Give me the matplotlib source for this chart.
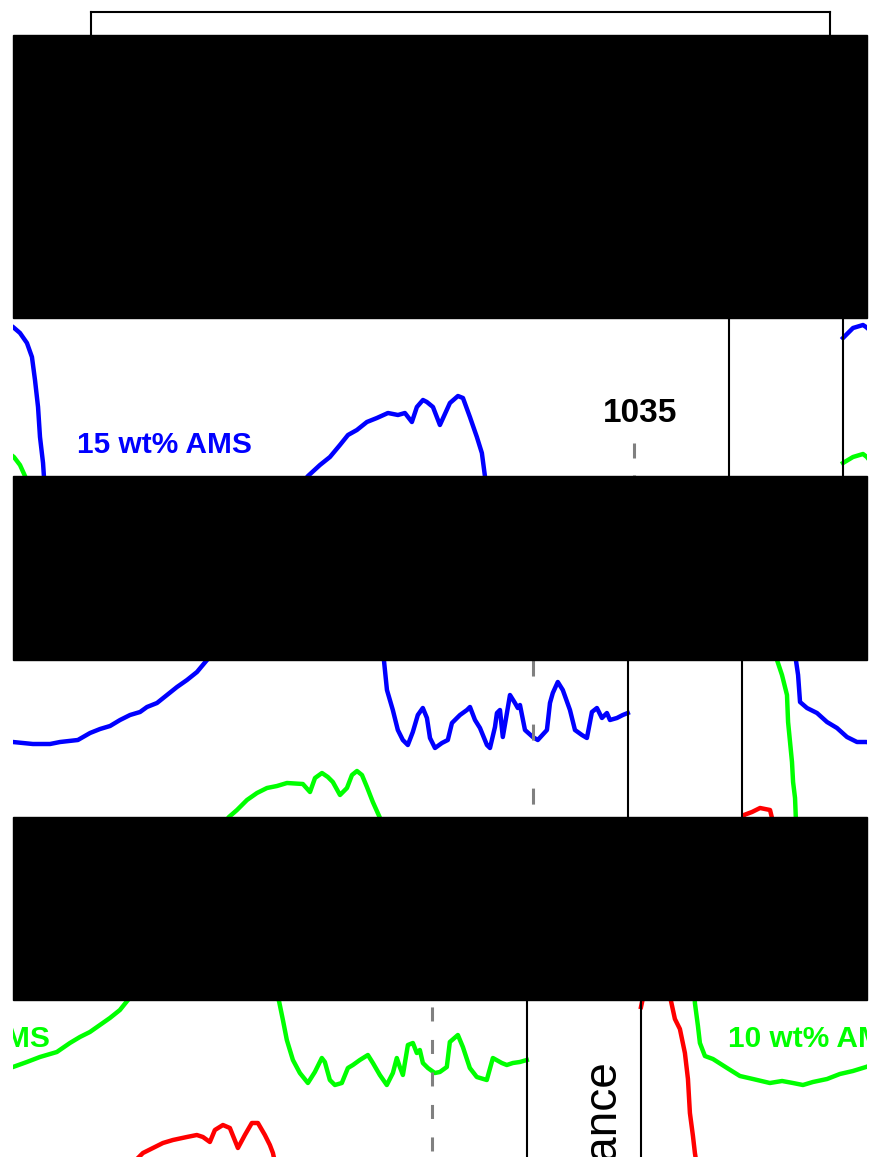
import matplotlib
matplotlib.use('Agg')
import matplotlib.pyplot as plt
from matplotlib.patches import Rectangle
from matplotlib.transforms import Bbox, TransformedBbox

plt.rcParams['font.family'] = ['Liberation Sans', 'DejaVu Sans']
plt.rcParams['lines.scale_dashes'] = False

# spectra: wavenumber (cm-1) and absorbance, stacked with offsets
blue_wn = [4000, 3954, 3908, 3894, 3862, 3830, 3807, 3793, 3779, 3770,
           3756, 3752, 3742, 3733, 3701, 3655, 3609, 3563, 3517, 3471,
           3430, 3338, 3259, 3213, 3131, 3075, 3029, 2983, 2937, 2891,
           2845, 2813, 2767, 2721, 2675, 2629, 2583, 2537, 2482, 2436,
           2390, 2353, 2312, 2266, 2220, 2169, 2123, 2091, 2059, 2036,
           2008, 1990, 1962, 1930, 1884, 1847, 1824, 1792, 1760, 1737,
           1723, 1709, 1682, 1659, 1636, 1613, 1590, 1567, 1544, 1525,
           1511, 1488, 1456, 1429, 1410, 1387, 1373, 1341, 1327, 1304,
           1281, 1249, 1235, 1212, 1203, 1189, 1176, 1157, 1143, 1120,
           1107, 1097, 1074, 1038, 1015, 973, 959, 946, 923, 900,
           867, 844, 812, 789, 766, 743, 720, 697, 683, 651,
           624, 601]
blue_abs = [.462, .472, .475, .473, .467, .457, .443, .420, .393, .363,
            .337, .324, .309, .282, .276, .271, .262, .256, .247, .242,
            .242, .240, .240, .242, .244, .251, .255, .258, .264, .269,
            .272, .277, .281, .289, .297, .304, .312, .324, .335, .343,
            .355, .365, .370, .378, .382, .387, .385, .387, .378, .393,
            .400, .398, .393, .375, .397, .404, .402, .383, .363, .347,
            .324, .294, .274, .254, .244, .239, .252, .269, .276, .266,
            .246, .236, .241, .244, .261, .266, .269, .274, .277, .264,
            .256, .239, .236, .257, .271, .274, .247, .271, .289, .281,
            .276, .279, .254, .247, .244, .254, .281, .291, .302, .294,
            .274, .254, .249, .246, .272, .276, .266, .271, .264, .266,
            .269, .271]

green_wn = [4000, 3954, 3908, 3890, 3862, 3839, 3816, 3793, 3788, 3779,
            3770, 3765, 3756, 3752, 3738, 3729, 3706, 3669, 3604, 3545,
            3485, 3407, 3351, 3301, 3255, 3209, 3144, 3085, 3025, 2965,
            2901, 2841, 2763, 2703, 2657, 2611, 2565, 2519, 2473, 2436,
            2399, 2353, 2307, 2261, 2215, 2169, 2096, 2063, 2040, 2008,
            1981, 1958, 1925, 1893, 1870, 1847, 1824, 1801, 1774, 1741,
            1723, 1705, 1677, 1645, 1608, 1576, 1544, 1530, 1507, 1484,
            1452, 1424, 1401, 1369, 1332, 1309, 1277, 1245, 1217, 1199,
            1185, 1171, 1148, 1125, 1107, 1093, 1079, 1056, 1024, 1001,
            969, 955, 918, 895, 863, 831, 785, 757, 716, 693,
            665, 633, 601]
green_abs = [.337, .343, .346, .343, .335, .324, .309, .289, .262, .242,
             .222, .202, .186, .164, .141, .124, .111, .108, .099, .091,
             .088, .084, .086, .084, .082, .085, .088, .093, .096, .100,
             .105, .110, .115, .124, .130, .135, .142, .149, .157, .167,
             .174, .184, .191, .196, .198, .201, .200, .192, .206, .211,
             .207, .202, .189, .196, .209, .213, .209, .197, .182, .166,
             .147, .127, .107, .094, .084, .095, .109, .105, .087, .082,
             .084, .099, .102, .107, .112, .104, .092, .082, .094, .109,
             .100, .092, .122, .124, .114, .117, .104, .099, .094, .095,
             .100, .125, .132, .120, .099, .090, .087, .109, .104, .102,
             .104, .105, .107]

red_wn = [4000, 3991, 3954, 3917, 3871, 3862, 3844, 3821, 3798, 3784,
          3775, 3761, 3752, 3742, 2408, 2367, 2321, 2275, 2229, 2165,
          2119, 2091, 2059, 2036, 1999, 1967, 1930, 1898, 1866, 1838,
          1806, 1783, 1769, 1755]
red_abs = [.160, .169, .172, .176, .174, .166, .148, .138, .114, .088,
           .054, .031, .014, .000, .005, .014, .019, .024, .027, .030,
           .032, .030, .025, .037, .042, .039, .019, .032, .044, .044,
           .032, .022, .014, .000]

series_colors = ['#0000ff', '#00ff00', '#ff0000']
label_text = ['15 wt% AMS', '10 wt% AMS']
label_abs = [0.347, 0.120]
LABEL_WN = 3600

PEAK_WN = 1035
PEAK_TOP = 0.357
PEAK_LABEL_ABS = 0.378

YLABEL_WN = 4110
YLABEL_ABS = 0.106

# layout in pixels
W, H = 871, 1157
XLIM = (4000, 600)
PANEL_TOP = 0.505
PANEL_W = 739
PANEL_LEFT = [-111, 742]
CLIP_X = (13, 867)
# (top px, bottom px, absorbance at top, absorbance at bottom, x shift px)
STRIPS = [
    (0, 35, 0.517, 0.482, 202),
    (318, 476, 0.482, 0.324, 101),
    (660, 817, 0.324, 0.167, 0),
    (1000, 1157, 0.167, 0.010, -101),
]
DASHES = [
    (0, (10.8, 12.2)),
    (0, (10.8, 12.2)),
    (22.3, (11.5, 34.6)),
    (22.0, (10.1, 13.3)),
]


def fx(px):
    return px / W


def fy(px):
    return 1 - px / H


def draw_panel(ax, dash, clip):
    lines = []
    for wn, ab, c in zip([blue_wn, green_wn, red_wn],
                         [blue_abs, green_abs, red_abs], series_colors):
        lines += ax.plot(wn, ab, color=c, lw=3.2, solid_joinstyle='round')
    lines += ax.plot([PEAK_WN, PEAK_WN], [PEAK_TOP, 0.0], color='#808080',
                     lw=2.2, linestyle=dash, zorder=3)
    texts = [ax.annotate(str(PEAK_WN), xy=(PEAK_WN, PEAK_LABEL_ABS),
                         xytext=(4, 0), textcoords='offset points',
                         ha='center', va='baseline', fontsize=24,
                         fontweight='bold', clip_on=True)]
    for t, y, c in zip(label_text, label_abs, series_colors):
        texts.append(ax.text(LABEL_WN, y, t, color=c, fontsize=21.5,
                             fontweight='bold', ha='left', va='baseline',
                             clip_on=True))
    texts.append(ax.text(YLABEL_WN, YLABEL_ABS, 'Absorbance', rotation=90,
                         rotation_mode='anchor', ha='right', va='baseline',
                         fontsize=33, clip_on=True))
    for a in lines + texts:
        a.set_clip_box(clip)
    return texts


fig = plt.figure(figsize=(W / 100, H / 100), dpi=100)
fig.patch.set_facecolor('white')

placed = []
for k, (top, bot, a_top, a_bot, shift) in enumerate(STRIPS):
    clip = TransformedBbox(Bbox.from_extents(fx(CLIP_X[0]), fy(bot),
                                             fx(CLIP_X[1]), fy(top)),
                           fig.transFigure)
    a_hi = min(a_top, PANEL_TOP)
    top_px = top + (a_top - a_hi) / (a_top - a_bot) * (bot - top)
    for left in PANEL_LEFT:
        ax = fig.add_axes([fx(left + shift), fy(bot), PANEL_W / W,
                           (bot - top_px) / H])
        ax.set_xlim(*XLIM)
        ax.set_ylim(a_bot, a_hi)
        ax.set_facecolor('none')
        ax.set_xticks([])
        ax.set_yticks([])
        ax.spines['bottom'].set_visible(False)
        ax.spines['top'].set_visible(a_top > PANEL_TOP)
        for side in ('left', 'right', 'top'):
            ax.spines[side].set_linewidth(1.5)
        placed += [(t, clip) for t in draw_panel(ax, DASHES[k], clip)]

# drop labels that fall completely outside their strip
renderer = fig.canvas.get_renderer()
for t, clip in placed:
    if not t.get_window_extent(renderer).overlaps(clip):
        t.remove()

# black bands between the strips
for (_, bot, _, _, _), (top_next, _, _, _, _) in zip(STRIPS[:-1], STRIPS[1:]):
    fig.add_artist(Rectangle((fx(CLIP_X[0]), fy(top_next)),
                             (CLIP_X[1] - CLIP_X[0]) / W, (top_next - bot) / H,
                             transform=fig.transFigure, color='black',
                             zorder=10))

fig.savefig('out.png', dpi=100)
